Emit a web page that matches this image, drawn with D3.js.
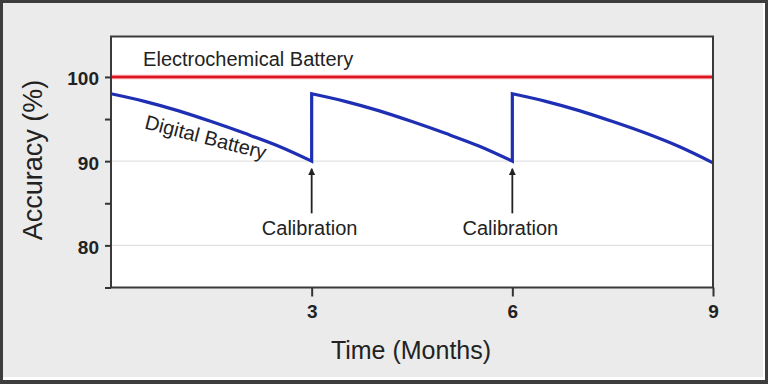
<!DOCTYPE html>
<html>
<head>
<meta charset="utf-8">
<script src="https://cdn.jsdelivr.net/npm/d3@7"></script>
<style>
  html, body { margin: 0; padding: 0; background: #3d3d3d; }
  svg { display: block; }
  text { font-family: "Liberation Sans", Arial, Helvetica, sans-serif; fill: #222; }
</style>
</head>
<body>
<svg id="chart" width="768" height="384"></svg>
<script>
// ---------------- data ----------------
const yTickValues = [75, 80, 85, 90, 95, 100];
const yTickLabels = [80, 90, 100];
const xTickValues = [3, 6, 9];
const gridValues = [80, 90];

// Electrochemical battery: constant accuracy
const electroMonths = [0, 9];
const electroValues = [100, 100];

// Digital battery: each calibration cycle (months, accuracy %)
const cycleMonths1 = [0, 0.5, 1, 1.5, 2, 2.5, 3];
const cycleValues1 = [98, 97.1, 96.0, 94.7, 93.3, 91.8, 90.0];
const cycleMonths2 = [3, 3.5, 4, 4.5, 5, 5.5, 6];
const cycleValues2 = [98, 97.1, 96.0, 94.7, 93.3, 91.8, 90.0];
const cycleMonths3 = [6, 6.5, 7, 7.5, 8, 8.5, 9];
const cycleValues3 = [98, 97.1, 96.0, 94.7, 93.3, 91.7, 89.8];

// Calibration arrows: month, arrow start/end (accuracy units)
const calibrationMonths = [3, 6];
const calibrationLabel = "Calibration";
const arrowFrom = 83.8;
const arrowTo = 89.1;

const xTitle = "Time (Months)";
const yTitle = "Accuracy (%)";
const electroLabel = "Electrochemical Battery";
const digitalLabel = "Digital Battery";

// ---------------- layout ----------------
const W = 768, H = 384;
const plot = { left: 111, right: 713, top: 36.5, bottom: 287.5 };

const svg = d3.select("#chart");

// outer panel
svg.append("rect").attr("x", 0).attr("y", 0).attr("width", W).attr("height", H).attr("fill", "#3d3d3d");
svg.append("rect").attr("x", 3).attr("y", 3).attr("width", 762).attr("height", 377).attr("fill", "#ffffff");
svg.append("rect").attr("x", 3).attr("y", 3).attr("width", 760).attr("height", 374).attr("fill", "#ebebeb");

const x = d3.scaleLinear().domain([0, 9]).range([plot.left, plot.right]);
const y = d3.scaleLinear().domain([75, 104.8]).range([plot.bottom, plot.top]);

// plot background
svg.append("rect")
  .attr("x", plot.left).attr("y", plot.top)
  .attr("width", plot.right - plot.left).attr("height", plot.bottom - plot.top)
  .attr("fill", "#ffffff");

// gridlines
svg.append("g").selectAll("line").data(gridValues).join("line")
  .attr("x1", plot.left).attr("x2", plot.right)
  .attr("y1", d => y(d)).attr("y2", d => y(d))
  .attr("stroke", "#e2e2e2").attr("stroke-width", 1.2);

// electrochemical line
const electroData = electroMonths.map((m, i) => ({ m, v: electroValues[i] }));
const lineLin = d3.line().x(d => x(d.m)).y(d => y(d.v));
svg.append("path").attr("d", lineLin(electroData))
  .attr("fill", "none").attr("stroke", "#f2a9ad").attr("stroke-width", 4.5);
svg.append("path").attr("d", lineLin(electroData))
  .attr("fill", "none").attr("stroke", "#e0141e").attr("stroke-width", 2.6);

// digital battery line
const cycles = [
  cycleMonths1.map((m, i) => ({ m, v: cycleValues1[i] })),
  cycleMonths2.map((m, i) => ({ m, v: cycleValues2[i] })),
  cycleMonths3.map((m, i) => ({ m, v: cycleValues3[i] }))
];
const lineCurve = d3.line().x(d => x(d.m)).y(d => y(d.v)).curve(d3.curveMonotoneX);
const digitalPath = cycles.map((c, i) => {
  const d = lineCurve(c);
  return i ? d.replace(/^M/, "L") : d;
}).join("");
svg.append("path").attr("d", digitalPath)
  .attr("fill", "none").attr("stroke", "#1f2fb3").attr("stroke-width", 3.2)
  .attr("stroke-linejoin", "miter");

// plot frame
svg.append("rect")
  .attr("x", plot.left).attr("y", plot.top)
  .attr("width", plot.right - plot.left).attr("height", plot.bottom - plot.top)
  .attr("fill", "none").attr("stroke", "#3a3a3a").attr("stroke-width", 2);

// axes
const yAxis = d3.axisLeft(y).tickValues(yTickValues).tickSize(6).tickPadding(6)
  .tickFormat(d => yTickLabels.includes(d) ? d : "");
const gy = svg.append("g").attr("transform", `translate(${plot.left},0)`).call(yAxis);
gy.select(".domain").remove();
gy.selectAll(".tick line").attr("stroke", "#333").attr("stroke-width", 2);
gy.selectAll(".tick text").attr("font-size", 19).attr("font-weight", "bold")
  .attr("fill", "#222").attr("dy", "0.42em")
  .attr("font-family", "'Liberation Sans', Arial, sans-serif");

const xAxis = d3.axisBottom(x).tickValues(xTickValues).tickSize(9).tickPadding(8);
const gx = svg.append("g").attr("transform", `translate(0,${plot.bottom})`).call(xAxis);
gx.select(".domain").remove();
gx.selectAll(".tick line").attr("stroke", "#333").attr("stroke-width", 2);
gx.selectAll(".tick text").attr("font-size", 19).attr("font-weight", "bold")
  .attr("fill", "#222")
  .attr("font-family", "'Liberation Sans', Arial, sans-serif");

// axis titles
svg.append("text").attr("x", 411).attr("y", 359)
  .attr("text-anchor", "middle").attr("font-size", 25).text(xTitle);
svg.append("text")
  .attr("transform", "translate(42,160) rotate(-90)")
  .attr("text-anchor", "middle").attr("font-size", 27).text(yTitle);

// series labels
svg.append("text").attr("x", x(0.48)).attr("y", y(101.35))
  .attr("font-size", 20).text(electroLabel);
svg.append("text")
  .attr("transform", `translate(${x(0.49)},${y(93.9)}) rotate(14.5)`)
  .attr("font-size", 20).text(digitalLabel);

// calibration arrows
const defs = svg.append("defs");
defs.append("marker").attr("id", "arrow")
  .attr("viewBox", "0 0 10 10").attr("refX", 9).attr("refY", 5)
  .attr("markerWidth", 4).attr("markerHeight", 4).attr("orient", "auto")
  .append("path").attr("d", "M0,0 L10,5 L0,10 z").attr("fill", "#222");

const cal = svg.append("g").selectAll("g").data(calibrationMonths).join("g");
cal.append("line")
  .attr("x1", d => x(d)).attr("x2", d => x(d))
  .attr("y1", y(arrowFrom)).attr("y2", y(arrowTo))
  .attr("stroke", "#222").attr("stroke-width", 1.8)
  .attr("marker-end", "url(#arrow)");
cal.append("text")
  .attr("x", d => x(d) - 2).attr("y", y(81.2))
  .attr("text-anchor", "middle").attr("font-size", 20).text(calibrationLabel);
</script>
</body>
</html>
